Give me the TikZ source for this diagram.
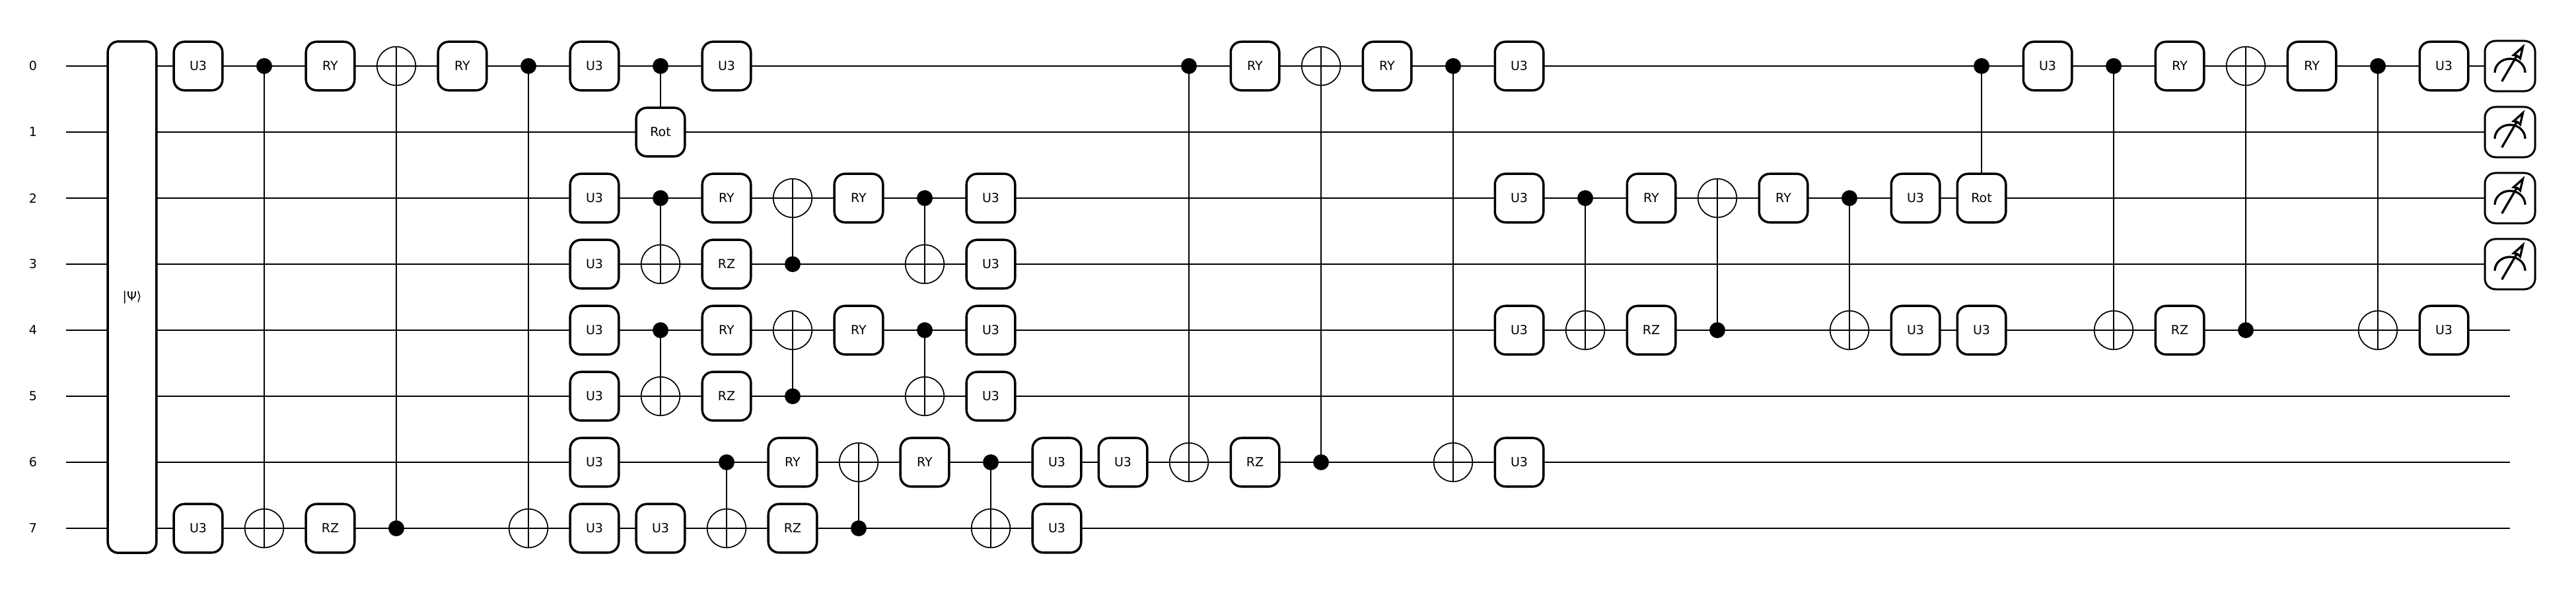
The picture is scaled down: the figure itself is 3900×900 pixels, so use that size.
\documentclass[tikz,border=0pt]{standalone}
\usepackage{fontspec}
\setmainfont{DejaVu Sans}
\usetikzlibrary{backgrounds}
\tikzset{
  wire/.style={line width=0.02cm,black},
  link/.style={line width=0.02cm,black},
  qgate/.style={draw=black,fill=white,line width=0.035cm,rounded corners=0.16cm,minimum width=0.735cm,minimum height=0.735cm,inner sep=0pt,font=\fontsize{5.4}{6}\selectfont},
  qstate/.style={qgate,minimum height=7.74cm},
  qmeas/.style={draw=black,fill=white,line width=0.03cm,rounded corners=0.16cm,minimum width=0.76cm,minimum height=0.76cm,inner sep=0pt},
  qctrl/.style={circle,fill=black,minimum size=0.24cm,inner sep=0pt},
  qtarget/.style={circle,draw=black,line width=0.017cm,minimum size=0.585cm,inner sep=0pt},
  wirelabel/.style={inner sep=0pt,font=\fontsize{5.4}{6}\selectfont},
  glyph/.style={line width=0.033cm,black},
}
\begin{document}
\begin{tikzpicture}[x=0.01cm,y=-0.01cm]
\useasboundingbox (0,0) rectangle (3900,900);
% wire labels and ends
\foreach \w in {0,...,7}{
  \node[wirelabel] (lab\w) at (50,{100+100*\w}) {\w};
  \coordinate (ws\w) at (100,{100+100*\w});
  \coordinate (we\w) at (3800,{100+100*\w});
}
% state preparation
\node[qstate] (psi) at (200,450) {|Ψ⟩};
% plain gates
\foreach \col/\w/\lbl in {
 3/0/U3,5/0/RY,7/0/RY,9/0/U3,11/0/U3,19/0/RY,21/0/RY,23/0/U3,31/0/U3,33/0/RY,35/0/RY,37/0/U3,
 10/1/Rot,
 9/2/U3,11/2/RY,13/2/RY,15/2/U3,23/2/U3,25/2/RY,27/2/RY,29/2/U3,30/2/Rot,
 9/3/U3,11/3/RZ,15/3/U3,
 9/4/U3,11/4/RY,13/4/RY,15/4/U3,23/4/U3,25/4/RZ,29/4/U3,30/4/U3,33/4/RZ,37/4/U3,
 9/5/U3,11/5/RZ,15/5/U3,
 9/6/U3,12/6/RY,14/6/RY,16/6/U3,17/6/U3,19/6/RZ,23/6/U3,
 3/7/U3,5/7/RZ,9/7/U3,10/7/U3,12/7/RZ,16/7/U3}{
  \node[qgate] (g\col-\w) at ({100*\col},{100+100*\w}) {\lbl};
}
% controlled rotations
\node[qctrl] (rc10) at (1000,100) {};
\node[qctrl] (rc30) at (3000,100) {};
% CNOTs
\foreach \col/\wa/\wb in {
 4/0/7,6/7/0,8/0/7,
 10/2/3,12/3/2,14/2/3,
 10/4/5,12/5/4,14/4/5,
 11/6/7,13/7/6,15/6/7,
 18/0/6,20/6/0,22/0/6,
 24/2/4,26/4/2,28/2/4,
 32/0/4,34/4/0,36/0/4}{
  \node[qctrl] (c\col-\wa) at ({100*\col},{100+100*\wa}) {};
  \node[qtarget] (t\col-\wb) at ({100*\col},{100+100*\wb}) {};
}
% measurements
\foreach \w in {0,...,3}{
  \node[qmeas] (m\w) at (3800,{100+100*\w}) {};
  \begin{scope}[shift={(m\w.center)}]
    \draw[glyph] (-23,10) arc[start angle=180,end angle=360,x radius=23,y radius=21];
    \draw[glyph] (-12.3,23.3) -- (10,-15);
    \draw[glyph,fill=white,line join=miter] (19.5,-29) -- (5.5,-16.5) -- (11,-15.5) -- (15.5,-11.5) -- cycle;
  \end{scope}
}
% wires and connectors
\begin{scope}[on background layer]
  \foreach \w in {0,...,7}{ \draw[wire] (ws\w) -- (we\w); }
  \draw[link] (rc10.center) -- (g10-1.center);
  \draw[link] (rc30.center) -- (g30-2.center);
  \foreach \col/\wa/\wb in {
   4/0/7,6/7/0,8/0/7,
   10/2/3,12/3/2,14/2/3,
   10/4/5,12/5/4,14/4/5,
   11/6/7,13/7/6,15/6/7,
   18/0/6,20/6/0,22/0/6,
   24/2/4,26/4/2,28/2/4,
   32/0/4,34/4/0,36/0/4}{
    \edef\anc{\ifnum\wa<\wb south\else north\fi}
    \draw[link] (c\col-\wa.center) -- (t\col-\wb.\anc);
  }
\end{scope}
\end{tikzpicture}
\end{document}
